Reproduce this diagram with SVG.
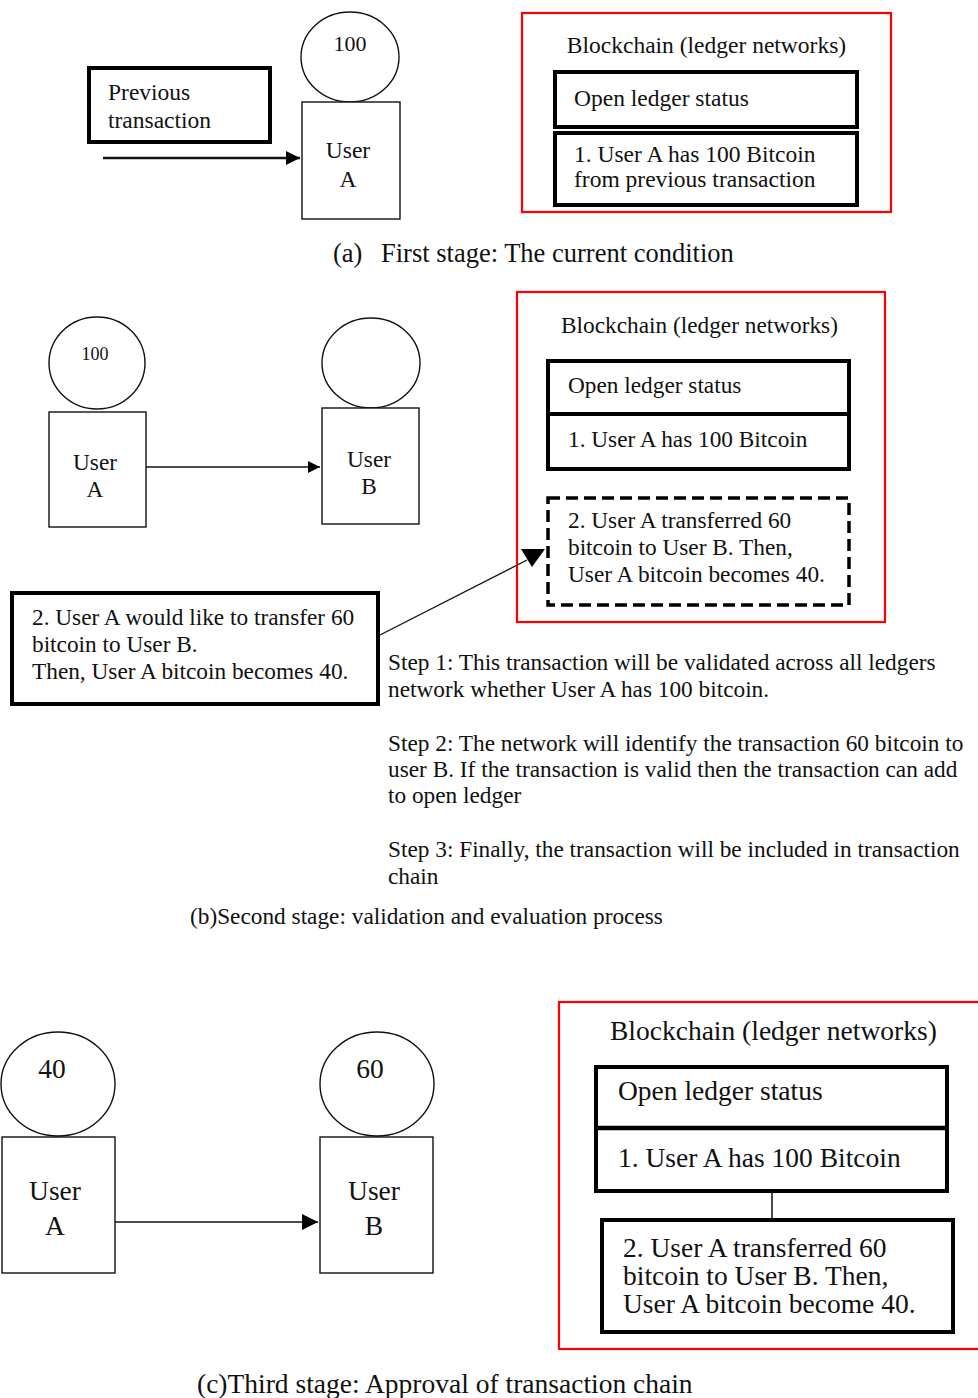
<svg xmlns="http://www.w3.org/2000/svg" width="978" height="1398" viewBox="0 0 978 1398">
<style>
text{font-family:"Liberation Serif","Times New Roman",serif;fill:#111;}
.thin{fill:#fff;stroke:#111;stroke-width:1.4;}
.thick{fill:#fff;stroke:#000;stroke-width:4;}
.red{fill:none;stroke:#ff0000;stroke-width:2.2;}
.dash{fill:#fff;stroke:#000;stroke-width:3.5;stroke-dasharray:12 6;}
.line{fill:none;stroke:#111;}
.a{font-size:23.5px;}
.b{font-size:23.3px;}
.c{font-size:27.5px;}
.mid{text-anchor:middle;}
</style>
<defs>
<marker id="ah1" markerUnits="userSpaceOnUse" markerWidth="16" markerHeight="14" refX="14" refY="7" orient="auto"><path d="M0,0 L14,7 L0,14 z" fill="#000"/></marker>
<marker id="ah2" markerUnits="userSpaceOnUse" markerWidth="14" markerHeight="12" refX="12" refY="6" orient="auto"><path d="M0,0 L12,6 L0,12 z" fill="#000"/></marker>
<marker id="ah3" markerUnits="userSpaceOnUse" markerWidth="18" markerHeight="16" refX="16" refY="8" orient="auto"><path d="M0,0 L16,8 L0,16 z" fill="#000"/></marker>
</defs>

<!-- Section (a) -->
<g id="a-prev">
<rect class="thick" x="89" y="68" width="181" height="74"/>
<text class="a" x="108" y="100">Previous</text>
<text class="a" x="108" y="128">transaction</text>
</g>
<g id="a-userA">
<ellipse class="thin" cx="350" cy="57" rx="49" ry="45"/>
<text class="mid" x="350" y="51" font-size="22">100</text>
<rect class="thin" x="302" y="102" width="98" height="117"/>
<text class="a mid" x="348" y="158">User</text>
<text class="a mid" x="348" y="187">A</text>
</g>
<g id="a-chain">
<rect class="red" x="522" y="13" width="369" height="199"/>
<text class="a mid" x="706.5" y="53">Blockchain (ledger networks)</text>
<rect class="thick" x="555" y="72" width="302" height="55"/>
<text class="a" x="574" y="106">Open ledger status</text>
<rect class="thick" x="555" y="133" width="302" height="72"/>
<text class="a" x="574" y="162">1. User A has 100 Bitcoin</text>
<text class="a" x="574" y="187">from previous transaction</text>
</g>
<g id="a-caption">
<text x="333" y="262" font-size="26.5">(a)</text>
<text x="381" y="262" font-size="26.5">First stage: The current condition</text>
</g>

<!-- Section (b) -->
<g id="b-userA">
<ellipse class="thin" cx="97" cy="363" rx="48" ry="46"/>
<text class="mid" x="95" y="360" font-size="18">100</text>
<rect class="thin" x="49" y="412" width="97" height="115"/>
<text class="b mid" x="95" y="470">User</text>
<text class="b mid" x="95" y="497">A</text>
</g>
<g id="b-userB">
<ellipse class="thin" cx="371" cy="363" rx="49" ry="45"/>
<rect class="thin" x="322" y="408" width="97" height="116"/>
<text class="b mid" x="369" y="467">User</text>
<text class="b mid" x="369" y="494">B</text>
</g>
<g id="b-request">
<rect class="thick" x="12" y="593" width="366" height="111"/>
<text class="b" x="32" y="625">2. User A would like to transfer 60</text>
<text class="b" x="32" y="652">bitcoin to User B.</text>
<text class="b" x="32" y="679">Then, User A bitcoin becomes 40.</text>
</g>
<g id="b-chain">
<rect class="red" x="517" y="292" width="368" height="330"/>
<text class="b mid" x="699.5" y="333">Blockchain (ledger networks)</text>
<rect class="thick" x="548" y="361" width="301" height="108"/>
<line x1="548" y1="414" x2="849" y2="414" stroke="#000" stroke-width="4"/>
<text class="b" x="568" y="393">Open ledger status</text>
<text class="b" x="568" y="447">1. User A has 100 Bitcoin</text>
<rect class="dash" x="548" y="498" width="301" height="107"/>
<text class="b" x="568" y="528">2. User A transferred 60</text>
<text class="b" x="568" y="555">bitcoin to User B. Then,</text>
<text class="b" x="568" y="582">User A bitcoin becomes 40.</text>
</g>
<g id="b-steps">
<text class="b" x="388" y="670">Step 1: This transaction will be validated across all ledgers</text>
<text class="b" x="388" y="697">network whether User A has 100 bitcoin.</text>
<text class="b" x="388" y="751">Step 2: The network will identify the transaction 60 bitcoin to</text>
<text class="b" x="388" y="777">user B. If the transaction is valid then the transaction can add</text>
<text class="b" x="388" y="803">to open ledger</text>
<text class="b" x="388" y="857">Step 3: Finally, the transaction will be included in transaction</text>
<text class="b" x="388" y="884">chain</text>
</g>
<g id="b-caption">
<text class="b" x="190" y="924">(b)Second stage: validation and evaluation process</text>
</g>

<!-- Section (c) -->
<g id="c-userA">
<ellipse class="thin" cx="58" cy="1084" rx="57" ry="52"/>
<text class="c mid" x="52" y="1078">40</text>
<rect class="thin" x="2" y="1137" width="113" height="136"/>
<text class="c mid" x="55" y="1200">User</text>
<text class="c mid" x="55" y="1235">A</text>
</g>
<g id="c-userB">
<ellipse class="thin" cx="377" cy="1084" rx="57" ry="52"/>
<text class="c mid" x="370" y="1078">60</text>
<rect class="thin" x="320" y="1137" width="113" height="136"/>
<text class="c mid" x="374" y="1200">User</text>
<text class="c mid" x="374" y="1235">B</text>
</g>
<g id="c-chain">
<rect class="red" x="559" y="1002" width="440" height="347"/>
<text class="c" x="610" y="1040">Blockchain (ledger networks)</text>
<rect class="thick" x="596" y="1067" width="351" height="124" stroke-width="4.5"/>
<line x1="596" y1="1128" x2="947" y2="1128" stroke="#000" stroke-width="4.5"/>
<text class="c" x="618" y="1100">Open ledger status</text>
<text class="c" x="618" y="1167">1. User A has 100 Bitcoin</text>
<rect class="thick" x="602" y="1220" width="351" height="112" stroke-width="4.5"/>
<text class="c" x="623" y="1257">2. User A transferred 60</text>
<text class="c" x="623" y="1285">bitcoin to User B. Then,</text>
<text class="c" x="623" y="1313">User A bitcoin become 40.</text>
</g>
<g id="c-caption">
<text class="c" x="197" y="1393">(c)Third stage: Approval of transaction chain</text>
</g>

<!-- Connectors -->
<g id="connectors">
<line class="line" x1="103" y1="158" x2="300" y2="158" stroke-width="2.5" marker-end="url(#ah1)"/>
<line class="line" x1="146" y1="467" x2="320" y2="467" stroke-width="1.4" marker-end="url(#ah2)"/>
<line class="line" x1="378" y1="636" x2="527" y2="560" stroke-width="1.4"/>
<polygon points="521,549 545,549 532,567" fill="#000"/>
<line class="line" x1="115" y1="1222" x2="318" y2="1222" stroke-width="1.6" marker-end="url(#ah3)"/>
<line class="line" x1="772" y1="1191" x2="772" y2="1220" stroke-width="1.5"/>
</g>
</svg>
